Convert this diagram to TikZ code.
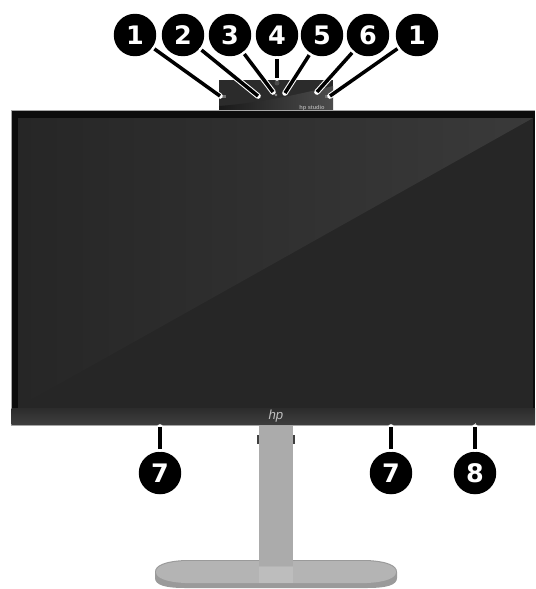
\documentclass[tikz,border=0pt]{standalone}
\usepackage{fontspec}
\newfontfamily\calloutfont{DejaVu Sans}
\setsansfont{Liberation Sans}
\usetikzlibrary{calc,positioning}
\definecolor{bezel}{HTML}{0C0C0C}
\definecolor{screendark}{HTML}{262626}
\definecolor{screenlight}{HTML}{3A3A3A}
\definecolor{chinmid}{HTML}{3E3E3E}
\definecolor{chindark}{HTML}{2C2C2C}
\definecolor{camblack}{HTML}{2B2B2B}
\definecolor{standgrey}{HTML}{ABABAB}
\definecolor{baselight}{HTML}{BDBDBD}
\definecolor{baserim}{HTML}{9A9A9A}
\tikzset{
  callout/.style={circle, fill=black, text=white, minimum size=0.85cm, inner sep=0pt,
    outer sep=1.5pt, font=\calloutfont\fontsize{14.5}{16}\selectfont\bfseries},
  leader/.style={black, line width=2pt,
    preaction={draw, white, line width=3.2pt, line cap=round}}
}

\begin{document}
\begin{tikzpicture}[x=0.02cm, y=-0.02cm]
  \useasboundingbox (0,0) rectangle (535,589);
  \fill[white] (0,0) rectangle (535,589);

  \fill[baserim] (155,572) .. controls (155,565) and (165,561) .. (185,560)
    -- (367,560) .. controls (387,561) and (397,565) .. (397,572)
    -- (397,578) .. controls (397,585) and (387,588) .. (367,588)
    -- (185,588) .. controls (165,588) and (155,585) .. (155,578) -- cycle;
  \fill[standgrey!90!white] (156,572) .. controls (156,566) and (166,562) .. (185,561)
    -- (367,561) .. controls (386,562) and (396,566) .. (396,572)
    .. controls (396,578) and (386,582) .. (367,583)
    -- (185,583) .. controls (166,582) and (156,578) .. (156,572) -- cycle;
  \fill[baselight] (259,567) rectangle (293,583);
  \fill[black!75] (257,435) rectangle (259,444);
  \fill[black!75] (293,435) rectangle (295,444);
  \fill[standgrey] (259,425) rectangle (293,566);

  \fill[camblack] (219,80) rectangle (333,112);
  \shade[left color=black!90, right color=black!70] (219,112) -- (219,106)
    .. controls (260,103) and (300,94) .. (333,86) -- (333,112) -- cycle;
  \fill[black!70] (277,83) circle (2.5);
  \fill[black!45] (276,95) circle (1.3);
  \fill[black!55] (222,94.5) rectangle (226,97.5);
  \fill[black!55] (325,94.5) rectangle (329,97.5);
  \node[black!35, font=\sffamily\fontsize{3.2}{4}\selectfont\bfseries] (camlabel)
    at (312,108) {hp studio};

  \fill[black!35] (11,110) rectangle (535,426);
  \fill[bezel] (11.5,111) rectangle (535,408);
  \fill[screendark] (18,118) rectangle (533,408);
  \shade[left color=screendark, right color=screenlight] (18,118) -- (533,118) -- (18,407) -- cycle;
  \shade[top color=chindark, bottom color=chinmid] (11.5,408) rectangle (535,424.5);
  \fill[black!30] (474.5,422.5) rectangle (476,424);
  \node[black!25, font=\sffamily\itshape\fontsize{7.5}{8}\selectfont] (hplogo)
    at (276,416.5) {hp};

  \node[callout] (cam1) at (135,35) {1};
  \node[callout] (cam2) at (183,35) {2};
  \node[callout] (cam3) at (230,35) {3};
  \node[callout] (cam4) at (277,35) {4};
  \node[callout] (cam5) at (322,35) {5};
  \node[callout] (cam6) at (368,35) {6};
  \node[callout] (cam7) at (417,35) {1};
  \node[callout] (foot1) at (160,473) {7};
  \node[callout] (foot2) at (391,473) {7};
  \node[callout] (foot3) at (475,473) {8};

  \coordinate (micleft) at (220,96);
  \coordinate (lightleft) at (258,96);
  \coordinate (lens) at (273,92);
  \coordinate (shutter) at (277,78);
  \coordinate (lightmid) at (285,93);
  \coordinate (lightright) at (317,92);
  \coordinate (micright) at (330,96);
  \coordinate (padleft) at (160,427);
  \coordinate (padright) at (391,427);
  \coordinate (button) at (475,427);

  \draw[leader] (cam1) -- (micleft);
  \draw[leader] (cam2) -- (lightleft);
  \draw[leader] (cam3) -- (lens);
  \draw[leader] (cam4) -- (shutter);
  \draw[leader] (cam5) -- (lightmid);
  \draw[leader] (cam6) -- (lightright);
  \draw[leader] (cam7) -- (micright);
  \draw[leader] (foot1) -- (padleft);
  \draw[leader] (foot2) -- (padright);
  \draw[leader] (foot3) -- (button);
\end{tikzpicture}
\end{document}
